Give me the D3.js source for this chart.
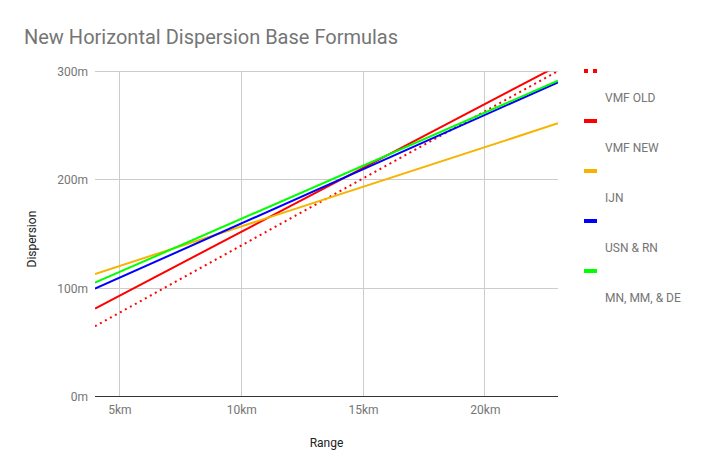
<!DOCTYPE html>
<html>
<head>
<meta charset="utf-8">
<script src="https://cdn.jsdelivr.net/npm/d3@7"></script>
<style>
  body { margin: 0; background: #fff; }
  svg { display: block; font-family: Roboto, sans-serif; }
</style>
</head>
<body>
<svg id="chart" width="703" height="475"></svg>
<script>
// ---- data ----
const rangesKm = [4, 23];
const seriesNames = ["VMF OLD", "VMF NEW", "IJN", "USN & RN", "MN, MM, & DE"];
const vmfOld = [65, 300.5];
const vmfNew = [81.3, 305.3];
const ijn = [113.2, 252.2];
const usnRn = [99.7, 290];
const mnMmDe = [105.2, 291.5];
const xTicks = [5, 10, 15, 20];
const yTicks = [0, 100, 200, 300];
const title = "New Horizontal Dispersion Base Formulas";
const xTitle = "Range";
const yTitle = "Dispersion";

const seriesValues = [vmfOld, vmfNew, ijn, usnRn, mnMmDe];
const colors = ["#ff0000", "#ff0000", "#f4b400", "#0000ff", "#00ff00"];
const dashed = [true, false, false, false, false];

const svg = d3.select("#chart");
const L = 95, R = 558, T = 71.5, B = 396.7;

const x = d3.scaleLinear().domain([4, 23]).range([L, R]);
const y = d3.scaleLinear().domain([0, 300]).range([B, T]);

// title
svg.append("text").attr("x", 24).attr("y", 44)
  .attr("font-size", 20).attr("fill", "#757575").text(title);

// gridlines
svg.append("g").selectAll("line").data(yTicks.filter(d => d > 0)).join("line")
  .attr("x1", L).attr("x2", R).attr("y1", d => y(d)).attr("y2", d => y(d))
  .attr("stroke", "#cccccc").attr("stroke-width", 1).attr("shape-rendering", "crispEdges");
svg.append("g").selectAll("line").data(xTicks).join("line")
  .attr("x1", d => x(d)).attr("x2", d => x(d)).attr("y1", T).attr("y2", B)
  .attr("stroke", "#cccccc").attr("stroke-width", 1).attr("shape-rendering", "crispEdges");

// axes (labels only)
const yAxis = d3.axisLeft(y).tickValues(yTicks).tickFormat(d => d + "m").tickSize(0).tickPadding(7);
const gy = svg.append("g").attr("transform", `translate(${L},0)`).call(yAxis);
gy.select(".domain").remove();
gy.selectAll("text").attr("font-size", 12).attr("fill", "#757575").attr("font-family", "Roboto, sans-serif");

const xAxis = d3.axisBottom(x).tickValues(xTicks).tickFormat(d => d + "km").tickSize(0).tickPadding(9);
const gx = svg.append("g").attr("transform", `translate(0,${B})`).call(xAxis);
gx.select(".domain").remove();
gx.selectAll("text").attr("font-size", 12).attr("fill", "#757575").attr("font-family", "Roboto, sans-serif");

// baseline
svg.append("line").attr("x1", L).attr("x2", R).attr("y1", y(0)).attr("y2", y(0))
  .attr("stroke", "#333333").attr("stroke-width", 1).attr("shape-rendering", "crispEdges");

// axis titles
svg.append("text").attr("x", (L + R) / 2).attr("y", 447).attr("text-anchor", "middle")
  .attr("font-size", 12).attr("fill", "#222").text(xTitle);
svg.append("text").attr("transform", `translate(36,${(T + B) / 2 + 5}) rotate(-90)`)
  .attr("text-anchor", "middle").attr("font-size", 12).attr("fill", "#222").text(yTitle);

// clip
svg.append("defs").append("clipPath").attr("id", "clip")
  .append("rect").attr("x", L).attr("y", T).attr("width", R - L).attr("height", B - T);

const line = d3.line().x(d => x(d[0])).y(d => y(d[1]));
const gLines = svg.append("g").attr("clip-path", "url(#clip)");
seriesValues.forEach((vals, i) => {
  const pts = rangesKm.map((r, j) => [r, vals[j]]);
  gLines.append("path").datum(pts).attr("d", line)
    .attr("fill", "none").attr("stroke", colors[i]).attr("stroke-width", 2)
    .attr("stroke-dasharray", dashed[i] ? "2,3.7" : null);
});

// legend
const lg = svg.append("g");
seriesNames.forEach((name, i) => {
  const cy = 71 + i * 50;
  if (dashed[i]) {
    lg.append("rect").attr("x", 584).attr("y", cy - 2).attr("width", 4).attr("height", 4).attr("fill", colors[i]);
    lg.append("rect").attr("x", 593).attr("y", cy - 2).attr("width", 4).attr("height", 4).attr("fill", colors[i]);
  } else {
    lg.append("rect").attr("x", 584).attr("y", cy - 2).attr("width", 13).attr("height", 4).attr("fill", colors[i]);
  }
  lg.append("text").attr("x", 605).attr("y", cy + 30.5).attr("font-size", 12).attr("fill", "#757575").text(name);
});
</script>
</body>
</html>
